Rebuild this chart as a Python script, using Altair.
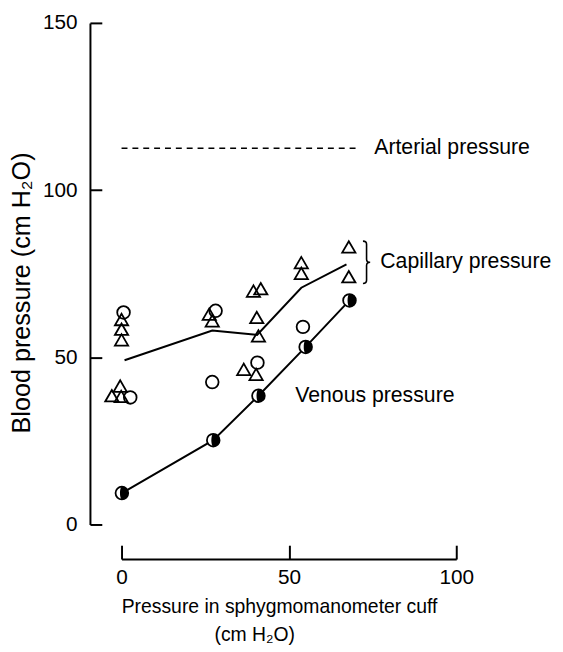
import altair as alt
import pandas as pd

# ---- data ----
tri_x = [0.0, 0.0, 0.0, -0.4, -2.9, -0.1, 26.2, 27.1, 36.5, 40.2, 40.4, 40.9, 39.4, 41.6, 53.7, 53.7, 67.9, 67.9]
tri_y = [61.3, 58.4, 55.2, 41.4, 38.5, 38.3, 62.9, 60.9, 46.4, 44.9, 61.9, 56.4, 69.8, 70.5, 78.3, 75.1, 83.0, 74.1]

circ_x = [0.6, 28.1, 27.1, 40.6, 2.6, 54.2]
circ_y = [63.4, 63.9, 42.6, 48.4, 38.0, 59.1]

ven_x = [0.1, 27.4, 40.9, 55.0, 68.1]
ven_y = [9.4, 25.2, 38.5, 53.1, 67.0]

cap_x = [0.9, 27.1, 40.5, 53.7, 67.2]
cap_y = [49.1, 58.0, 56.7, 70.8, 77.8]

art_x = [0.0, 70.0]
art_y = [112.5, 112.5]

x_ticks = [0, 50, 100]
y_ticks = [0, 50, 100, 150]

ann_text = ["Arterial pressure", "Capillary pressure", "Venous pressure"]
ann_x = [75.5, 77.3, 51.9]
ann_y = [112.5, 78.4, 38.5]

xtitle_text = ["Pressure in sphygmomanometer cuff", "(cm H\u2082O)"]
xtitle_x = [47.2, 39.8]
xtitle_y = [-24.8, -33.0]

brace_x = [73.2]
brace_y = [78.4]

FONT = "Liberation Sans"

tri = pd.DataFrame({"x": tri_x, "y": tri_y})
circ = pd.DataFrame({"x": circ_x, "y": circ_y})
ven = pd.DataFrame({"x": ven_x, "y": ven_y})
cap = pd.DataFrame({"x": cap_x, "y": cap_y})
art = pd.DataFrame({"x": art_x, "y": art_y})
ann = pd.DataFrame({"x": ann_x, "y": ann_y, "t": ann_text})
xt = pd.DataFrame({"x": xtitle_x, "y": xtitle_y, "t": xtitle_text})
brace = pd.DataFrame({"x": brace_x, "y": brace_y})

xscale = alt.Scale(domain=[0, 100], nice=False, zero=False)
yscale = alt.Scale(domain=[0, 150], nice=False, zero=False)

xaxis = alt.Axis(values=x_ticks, offset=35, tickSize=alt.ExprRef(expr="-14"),
                 labelPadding=22, labelFlush=False, title=None, grid=False)
yaxis = alt.Axis(values=y_ticks, offset=32, tickSize=alt.ExprRef(expr="-12"),
                 labelPadding=25, labelFlush=False, grid=False,
                 title="Blood pressure (cm H\u2082O)", titleX=-69, titleY=273,
                 titleBaseline="middle", titleFontSize=25.5)

X = alt.X("x:Q", scale=xscale, axis=xaxis)
Y = alt.Y("y:Q", scale=yscale, axis=yaxis)

art_line = alt.Chart(art).mark_line(color="black", strokeWidth=1.6, strokeDash=[6, 5]).encode(x=X, y=Y)
cap_line = alt.Chart(cap).mark_line(color="black", strokeWidth=2).encode(x=X, y=Y)
ven_line = alt.Chart(ven).mark_line(color="black", strokeWidth=2).encode(x=X, y=Y)

tri_pts = alt.Chart(tri).mark_point(shape="triangle-up", size=180, filled=False,
                                    color="black", strokeWidth=1.8, opacity=1).encode(x=X, y=Y)
circ_pts = alt.Chart(circ).mark_point(shape="circle", size=165, filled=False,
                                      color="black", strokeWidth=1.8, opacity=1).encode(x=X, y=Y)
ven_bg = alt.Chart(ven).mark_point(shape="circle", size=165, filled=True, fill="white",
                                   stroke="black", strokeWidth=1.8, opacity=1).encode(x=X, y=Y)
ven_half = alt.Chart(ven).mark_point(shape="M0,-1A1,1 0 0 1 0,1A0.3,1 0 0 1 0,-1Z", size=165,
                                     filled=True, fill="black", strokeWidth=0, opacity=1).encode(x=X, y=Y)

brace_mark = alt.Chart(brace).mark_point(
    shape="M-0.17,-1Q0,-1 0,-0.85L0,-0.15Q0,0 0.17,0Q0,0 0,0.15L0,0.85Q0,1 -0.17,1",
    size=1849, filled=False, color="black", strokeWidth=1.6, opacity=1).encode(x=X, y=Y)

ann_text_mark = alt.Chart(ann).mark_text(align="left", baseline="middle", font=FONT,
                                         fontSize=21.5, color="black").encode(x=X, y=Y, text="t:N")
xt_mark = alt.Chart(xt).mark_text(align="center", baseline="middle", font=FONT,
                                  fontSize=19.6, color="black").encode(x=X, y=Y, text="t:N")

chart = alt.layer(
    art_line, cap_line, ven_line, tri_pts, circ_pts, ven_bg, ven_half, brace_mark,
    ann_text_mark, xt_mark
).properties(
    width=339, height=508,
    padding={"left": 115, "top": 11, "right": 100, "bottom": 121},
    autosize=alt.AutoSizeParams(type="none"),
    background="white",
).configure_view(stroke=None).configure_axis(
    domainColor="black", domainWidth=2, tickColor="black", tickWidth=2,
    labelFont=FONT, labelFontSize=21, labelColor="black",
    titleFont=FONT, titleColor="black", titleFontWeight="normal",
)

chart.save("out.html", embed_options={"renderer": "svg", "actions": False})
